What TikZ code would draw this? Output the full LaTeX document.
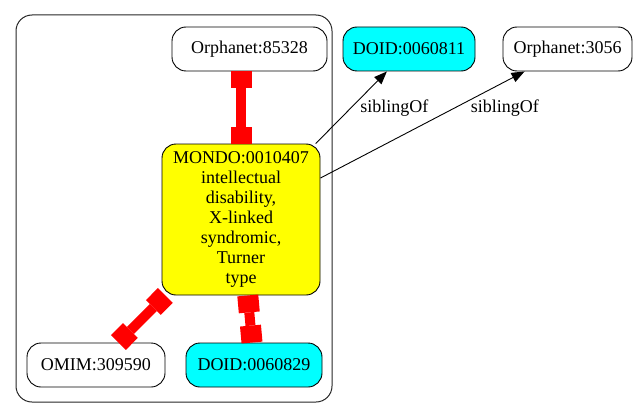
\documentclass[tikz,border=0pt]{standalone}
\usepackage{fontspec}
\setmainfont{Liberation Serif}
\usetikzlibrary{arrows.meta}
\definecolor{gvred}{RGB}{255,0,0}
\definecolor{gvcyan}{RGB}{0,255,255}
\definecolor{gvyellow}{RGB}{255,255,0}
\tikzset{
  box/.style={draw=black, line width=0.9pt, rounded corners=14pt, align=center,
    inner sep=0pt, font=\fontsize{18}{20}\selectfont},
  lbl/.style={font=\fontsize{18}{20}\selectfont, inner sep=0pt},
  redlink/.style={draw=gvred, line width=10pt,
    {Square[length=17pt,width=21pt,line width=0pt]}-{Square[length=17pt,width=21pt,line width=0pt]}},
  sib/.style={draw=black, line width=0.9pt, -{Triangle[length=13pt,width=10pt]}},
  cluster/.style={draw=black!85, line width=1pt, rounded corners=16pt}
}
\begin{document}
\begin{tikzpicture}[x=1pt,y=-1pt]
\useasboundingbox (0,0) rectangle (639,417);
\draw[cluster] (16,15) rectangle (332,402);
\node[box, minimum width=155pt, minimum height=44pt] (orpha) at (249.5,49) {Orphanet:85328};
\node[box, fill=gvcyan, minimum width=132pt, minimum height=44pt] (doida) at (409,49) {DOID:0060811};
\node[box, minimum width=129pt, minimum height=44pt] (orphb) at (567.5,49) {Orphanet:3056};
\node[box, fill=gvyellow, minimum width=158pt, minimum height=151pt] (mondo) at (241,219.5)
  {MONDO:0010407\\intellectual\\disability,\\X-linked\\syndromic,\\Turner\\type};
\node[box, minimum width=138pt, minimum height=44pt] (omim) at (96,365) {OMIM:309590};
\node[box, fill=gvcyan, minimum width=136pt, minimum height=44pt] (doidb) at (254,365) {DOID:0060829};
\path[redlink] (mondo.north |- orpha.south) -- (mondo.north);
\path[redlink] (mondo) -- (omim);
\path[redlink] (mondo) -- (doidb);
\draw[sib] (mondo) -- (doida) node[lbl, pos=0.5, xshift=43pt, yshift=-1pt] {siblingOf};
\draw[sib] (mondo) -- (orphb) node[lbl, pos=0.654, xshift=51pt] {siblingOf};
\end{tikzpicture}
\end{document}
